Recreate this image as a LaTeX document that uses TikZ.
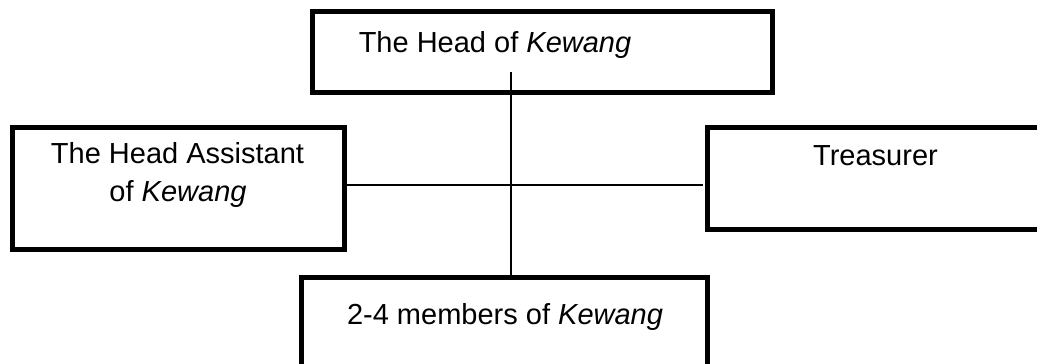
\documentclass[tikz,border=0pt]{standalone}
\usepackage{fontspec}
\setmainfont{Liberation Sans}
\begin{document}
\begin{tikzpicture}[x=1pt,y=-1pt,
  orgbox/.style={draw=black,line width=5pt,rectangle,outer sep=0pt,inner sep=0pt},
  lbl/.style={anchor=base,inner sep=0pt,font=\fontsize{29}{38}\selectfont},
  conn/.style={draw=black,line width=1.4pt}]
\useasboundingbox (0,0) rectangle (1037,364);
\clip (0,0) rectangle (1037,364);
\node[orgbox,minimum width=460pt,minimum height=81pt] (head) at (542.5,52) {};
\node[orgbox,minimum width=332pt,minimum height=122pt] (assist) at (178.5,188.5) {};
\node[orgbox,minimum width=352.5pt,minimum height=102pt] (treas) at (883.75,178.5) {};
\node[orgbox,minimum width=406pt,minimum height=122.5pt] (members) at (504.5,338.75) {};
\node[lbl] (headtxt) at (495,52) {The Head of \textit{Kewang}};
\node[lbl] (assisttxta) at (177.5,163) {The Head Assistant};
\node[lbl] (assisttxtb) at (178,201) {of \textit{Kewang}};
\node[lbl] (treastxt) at (875.5,165) {Treasurer};
\node[lbl] (memberstxt) at (505,324) {2-4 members of \textit{Kewang}};
\coordinate (vtop) at (511,72);
\coordinate (hy) at (0,185);
\draw[conn] (vtop) -- (vtop |- members.north);
\draw[conn] (assist.east |- hy) -- ([xshift=-5pt]treas.west |- hy);
\end{tikzpicture}
\end{document}
